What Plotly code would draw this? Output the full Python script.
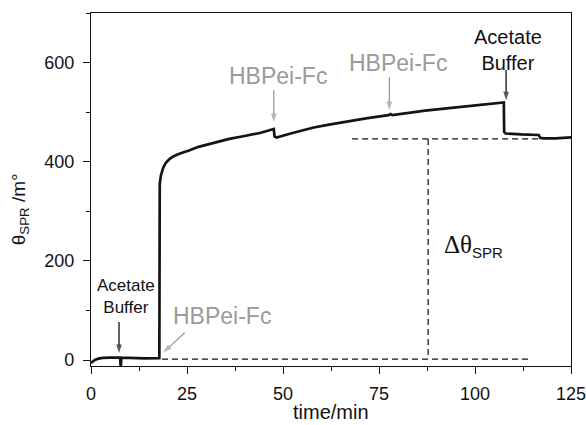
import plotly.graph_objects as go

# ---- data ----
time_min = [0, 0.5, 1, 2, 3, 5, 7.6, 7.7, 7.8, 7.9, 10, 14, 17.8,
            17.9, 18.2, 18.8, 19.5, 20.5, 21.5, 23, 25.7, 28, 30, 32.7, 36, 40, 44, 47.6,
            47.8, 48.3, 50, 52, 55, 58, 62, 67, 72, 77.5, 78, 78.5, 82, 87, 92, 97, 102, 107.5,
            107.6, 108, 112, 116.6, 117, 118, 121, 125]
theta_mdeg = [-6, -3, 0, 3, 4.5, 5, 5, -10, -10, 5, 4, 3.5, 4,
              355, 372, 388, 398, 406, 411, 416, 423, 430, 434, 440, 446, 452, 458, 466,
              451, 449, 453, 457, 463, 469, 475, 482, 488, 494, 496, 494, 498, 503, 507, 511, 515, 519.5,
              460, 457, 455, 454, 448, 447, 447, 449]

# dashed guide lines (Delta theta construction)
baseline_x = [18.5, 113.8]
baseline_y = [2, 2]
plateau_x = [68, 117]
plateau_y = [446, 446]
delta_x = [87.8, 87.8]
delta_y = [446, 2]

# arrows: tail -> tip
arrow_tail_x = [7.3, 24.4, 47.6, 77.7, 108.1]
arrow_tail_y = [77, 55, 544, 571, 585]
arrow_tip_x = [7.3, 18.8, 47.6, 77.7, 108.1]
arrow_tip_y = [14, 15, 480, 504, 524]
arrow_dark = [True, False, False, False, True]

x_ticks = [0, 25, 50, 75, 100, 125]
y_ticks = [0, 200, 400, 600]

FONT = "Liberation Sans, Arial, Helvetica, sans-serif"
GRAY = "#9a9a9a"
INK = "#111111"

fig = go.Figure()
for gx, gy in [(baseline_x, baseline_y), (plateau_x, plateau_y), (delta_x, delta_y)]:
    fig.add_trace(go.Scatter(x=gx, y=gy, mode="lines",
                             line=dict(color=INK, width=1.2, dash="6px,4px"),
                             hoverinfo="skip", showlegend=False))
fig.add_trace(go.Scatter(x=time_min, y=theta_mdeg, mode="lines",
                         line=dict(color="#141414", width=2.7),
                         showlegend=False))

for i in range(len(arrow_tip_x)):
    c = INK if arrow_dark[i] else GRAY
    fig.add_trace(go.Scatter(
        x=[arrow_tail_x[i], arrow_tip_x[i]], y=[arrow_tail_y[i], arrow_tip_y[i]],
        mode="lines+markers", line=dict(color=c, width=1.3),
        marker=dict(symbol="arrow", size=[0, 9], angleref="previous", color=c,
                    line=dict(width=0)),
        hoverinfo="skip", showlegend=False))

annotations = []
texts = [
    (9.1, 128, "Acetate<br>Buffer", 17, INK),
    (108.6, 625, "Acetate<br>Buffer", 20, INK),
    (34.0, 88, "HBPei-Fc", 23, GRAY),
    (48.6, 573, "HBPei-Fc", 23, GRAY),
    (79.9, 599, "HBPei-Fc", 23, GRAY),
]
for x, y, t, s, c in texts:
    annotations.append(dict(x=x, y=y, xref="x", yref="y", text=t, showarrow=False,
                            font=dict(family=FONT, size=s, color=c),
                            xanchor="center", yanchor="middle"))

annotations.append(dict(
    x=99.5, y=230, xref="x", yref="y", showarrow=False,
    text="<span style='font-family:Liberation Serif, Times New Roman, serif'>Δθ</span>"
         "<sub><span style='font-size:15px'>SPR</span></sub>",
    font=dict(family=FONT, size=25, color=INK),
    xanchor="center", yanchor="middle"))

# axis titles as annotations (placed to match reference)
annotations.append(dict(
    x=-0.148, y=0.444, xref="paper", yref="paper", showarrow=False,
    text="θ<sub>SPR</sub> /m°", textangle=-90,
    font=dict(family=FONT, size=19, color=INK),
    xanchor="center", yanchor="middle"))
annotations.append(dict(
    x=0.5, y=-0.1302, xref="paper", yref="paper", showarrow=False,
    text="time/min",
    font=dict(family=FONT, size=20, color=INK),
    xanchor="center", yanchor="middle"))

fig.update_layout(
    width=586, height=425,
    margin=dict(l=91, r=15, t=13, b=59),
    paper_bgcolor="white", plot_bgcolor="white",
    annotations=annotations,
    xaxis=dict(range=[0, 125], tickvals=x_ticks, ticks="outside", ticklen=7,
               tickwidth=1.2, tickcolor=INK, ticklabelstandoff=4,
               ticklabeloverflow="allow", automargin=False,
               minor=dict(dtick=12.5, ticks="outside", ticklen=4, tickwidth=1.2, tickcolor=INK),
               showline=True, linecolor=INK, linewidth=1.3, mirror=True,
               showgrid=False, zeroline=False,
               tickfont=dict(family=FONT, size=18, color=INK)),
    yaxis=dict(range=[-12, 700], tickvals=y_ticks, ticks="outside", ticklen=7,
               tickwidth=1.2, tickcolor=INK, ticklabelstandoff=5, automargin=False,
               minor=dict(dtick=100, ticks="outside", ticklen=4, tickwidth=1.2, tickcolor=INK),
               showline=True, linecolor=INK, linewidth=1.3, mirror=True,
               showgrid=False, zeroline=False,
               tickfont=dict(family=FONT, size=18, color=INK)),
)

fig.write_html("out.html")
